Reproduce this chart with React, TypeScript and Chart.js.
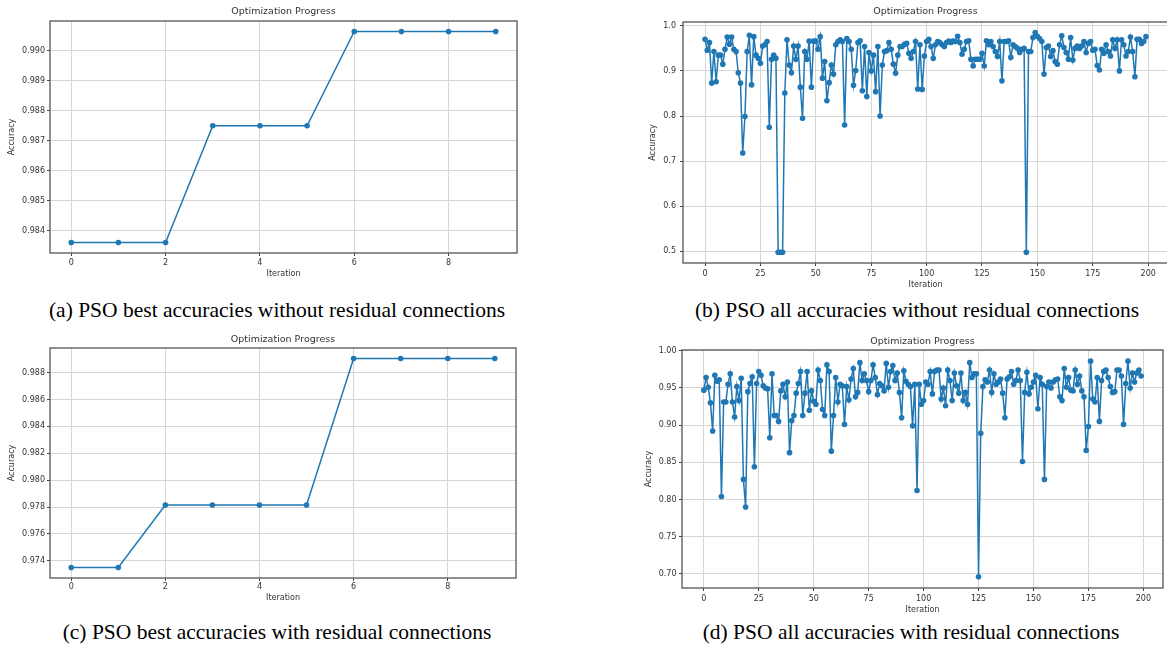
import React, { useEffect, useRef } from "react";
import { Chart, registerables } from "chart.js";

Chart.register(...registerables);

const FONT = "'DejaVu Sans', sans-serif";
const LINE_COLOR = "#1f77b4";
const TEXT_COLOR = "#333333";
const GRID_COLOR = "#d6d6d6";

// (a) PSO best accuracies without residual connections
const bestNoResidual = [0.9836, 0.9836, 0.9836, 0.9875, 0.9875, 0.9875, 0.99065, 0.99065, 0.99065, 0.99065];
// (c) PSO best accuracies with residual connections
const bestResidual = [0.9735, 0.9735, 0.97815, 0.97815, 0.97815, 0.97815, 0.98905, 0.98905, 0.98905, 0.98905];

// (b) PSO all accuracies without residual connections
const allNoResidual = [
  0.970, 0.946, 0.963, 0.873, 0.943, 0.876, 0.935, 0.935, 0.915, 0.948,
  0.975, 0.959, 0.975, 0.948, 0.943, 0.896, 0.873, 0.718, 0.799, 0.943,
  0.979, 0.869, 0.976, 0.935, 0.928, 0.917, 0.955, 0.958, 0.965, 0.775,
  0.926, 0.935, 0.928, 0.498, 0.498, 0.498, 0.851, 0.969, 0.913, 0.896,
  0.955, 0.926, 0.955, 0.864, 0.795, 0.943, 0.926, 0.966, 0.864, 0.966,
  0.966, 0.948, 0.976, 0.884, 0.921, 0.834, 0.874, 0.913, 0.893, 0.958,
  0.965, 0.969, 0.965, 0.780, 0.972, 0.965, 0.948, 0.868, 0.901, 0.963,
  0.967, 0.856, 0.954, 0.843, 0.941, 0.900, 0.935, 0.854, 0.954, 0.800,
  0.913, 0.943, 0.945, 0.963, 0.948, 0.915, 0.895, 0.935, 0.954, 0.954,
  0.959, 0.961, 0.939, 0.928, 0.943, 0.965, 0.860, 0.958, 0.859, 0.933,
  0.965, 0.970, 0.954, 0.928, 0.958, 0.965, 0.963, 0.958, 0.954, 0.963,
  0.966, 0.963, 0.966, 0.965, 0.977, 0.963, 0.937, 0.948, 0.965, 0.967,
  0.926, 0.911, 0.926, 0.926, 0.926, 0.939, 0.911, 0.967, 0.958, 0.965,
  0.954, 0.943, 0.932, 0.965, 0.878, 0.965, 0.965, 0.967, 0.930, 0.958,
  0.954, 0.950, 0.941, 0.948, 0.950, 0.498, 0.943, 0.943, 0.974, 0.985,
  0.977, 0.972, 0.965, 0.893, 0.952, 0.955, 0.932, 0.945, 0.921, 0.915,
  0.958, 0.978, 0.952, 0.941, 0.926, 0.974, 0.924, 0.950, 0.955, 0.950,
  0.955, 0.965, 0.941, 0.961, 0.965, 0.946, 0.948, 0.912, 0.902, 0.948,
  0.939, 0.958, 0.943, 0.933, 0.969, 0.950, 0.969, 0.900, 0.969, 0.958,
  0.933, 0.943, 0.975, 0.943, 0.887, 0.970, 0.970, 0.961, 0.965, 0.976,
];

// (d) PSO all accuracies with residual connections
const allResidual = [
  0.947, 0.964, 0.951, 0.930, 0.892, 0.967, 0.959, 0.961, 0.804, 0.931,
  0.931, 0.955, 0.969, 0.931, 0.911, 0.952, 0.933, 0.963, 0.827, 0.790,
  0.945, 0.956, 0.965, 0.844, 0.956, 0.972, 0.967, 0.953, 0.950, 0.949,
  0.883, 0.969, 0.913, 0.913, 0.905, 0.946, 0.955, 0.938, 0.958, 0.863,
  0.906, 0.913, 0.943, 0.956, 0.972, 0.913, 0.943, 0.972, 0.920, 0.946,
  0.932, 0.928, 0.974, 0.960, 0.921, 0.913, 0.981, 0.972, 0.865, 0.913,
  0.964, 0.931, 0.955, 0.953, 0.901, 0.952, 0.934, 0.962, 0.976, 0.938,
  0.944, 0.984, 0.960, 0.969, 0.960, 0.945, 0.960, 0.981, 0.964, 0.941,
  0.956, 0.953, 0.946, 0.983, 0.951, 0.972, 0.980, 0.960, 0.970, 0.944,
  0.910, 0.973, 0.959, 0.955, 0.952, 0.899, 0.955, 0.812, 0.955, 0.928,
  0.933, 0.958, 0.955, 0.972, 0.942, 0.972, 0.974, 0.974, 0.935, 0.950,
  0.926, 0.974, 0.960, 0.933, 0.970, 0.953, 0.943, 0.970, 0.933, 0.944,
  0.928, 0.984, 0.964, 0.969, 0.969, 0.696, 0.889, 0.952, 0.961, 0.958,
  0.974, 0.944, 0.969, 0.955, 0.958, 0.962, 0.943, 0.910, 0.962, 0.965,
  0.972, 0.955, 0.960, 0.974, 0.960, 0.851, 0.944, 0.971, 0.942, 0.951,
  0.958, 0.967, 0.922, 0.964, 0.955, 0.827, 0.952, 0.958, 0.950, 0.958,
  0.961, 0.962, 0.938, 0.933, 0.976, 0.951, 0.964, 0.947, 0.946, 0.974,
  0.955, 0.966, 0.946, 0.938, 0.866, 0.898, 0.986, 0.935, 0.931, 0.964,
  0.905, 0.960, 0.972, 0.974, 0.964, 0.952, 0.944, 0.945, 0.974, 0.974,
  0.966, 0.901, 0.956, 0.986, 0.950, 0.970, 0.958, 0.970, 0.974, 0.966,
];

const bestXTicks = [0, 2, 4, 6, 8];
const allXTicks = [0, 25, 50, 75, 100, 125, 150, 175, 200];
const aYTicks = [0.984, 0.985, 0.986, 0.987, 0.988, 0.989, 0.99];
const cYTicks = [0.974, 0.976, 0.978, 0.98, 0.982, 0.984, 0.986, 0.988];
const bYTicks = [0.5, 0.6, 0.7, 0.8, 0.9, 1.0];
const dYTicks = [0.7, 0.75, 0.8, 0.85, 0.9, 0.95, 1.0];

const chartTitle = "Optimization Progress";
const xLabel = "Iteration";
const yLabel = "Accuracy";

type Spec = {
  values: number[];
  xTicks: number[];
  yTicks: number[];
  yDec: number;
  xMin: number;
  xMax: number;
  yMin: number;
  yMax: number;
  area: { left: number; top: number; right: number; bottom: number };
  yTitleX: number;
  xTitleY: number;
  titleY: number;
  xTickPad: number;
  yTickPad: number;
};

const specs: Spec[] = [
  {
    values: bestNoResidual, xTicks: bestXTicks, yTicks: aYTicks, yDec: 3,
    xMin: -0.45, xMax: 9.45, yMin: 0.98325, yMax: 0.991,
    area: { left: 50, top: 21, right: 517, bottom: 253 },
    yTitleX: 12, xTitleY: 274, titleY: 12, xTickPad: 1.8, yTickPad: 2,
  },
  {
    values: allNoResidual, xTicks: allXTicks, yTicks: bYTicks, yDec: 1,
    xMin: -9.95, xMax: 208.95, yMin: 0.474, yMax: 1.0085,
    area: { left: 683, top: 22, right: 1168, bottom: 263 },
    yTitleX: 653, xTitleY: 285, titleY: 12, xTickPad: 3.5, yTickPad: 4,
  },
  {
    values: bestResidual, xTicks: bestXTicks, yTicks: cYTicks, yDec: 3,
    xMin: -0.45, xMax: 9.45, yMin: 0.97272, yMax: 0.98983,
    area: { left: 50, top: 348, right: 516, bottom: 578 },
    yTitleX: 12, xTitleY: 598, titleY: 340, xTickPad: 1.2, yTickPad: 2,
  },
  {
    values: allResidual, xTicks: allXTicks, yTicks: dYTicks, yDec: 2,
    xMin: -9.95, xMax: 208.95, yMin: 0.681, yMax: 1.001,
    area: { left: 682, top: 350, right: 1163, bottom: 588 },
    yTitleX: 649, xTitleY: 610, titleY: 342, xTickPad: 3.5, yTickPad: 2.5,
  },
];

const captions = [
  { text: "(a) PSO best accuracies without residual connections", cx: 277, cy: 310 },
  { text: "(b) PSO all accuracies without residual connections", cx: 917, cy: 310 },
  { text: "(c) PSO best accuracies with residual connections", cx: 277, cy: 632 },
  { text: "(d) PSO all accuracies with residual connections", cx: 911, cy: 632 },
];

function Panel({ spec }: { spec: Spec }) {
  const ref = useRef<HTMLCanvasElement>(null);
  const L = Math.round(spec.yTitleX - 4.8);
  const T = spec.area.top - 20;
  const Rt = spec.area.right + 10;
  const B = Math.round(spec.xTitleY + 4.8);
  const W = Rt - L;
  const H = B - T;

  useEffect(() => {
    if (!ref.current) return;
    const tickFont = { family: FONT, size: 8 };
    const decorPlugin = {
      id: "decor",
      afterDraw(chart: any) {
        const { ctx, chartArea } = chart;
        ctx.save();
        ctx.strokeStyle = "#555555";
        ctx.lineWidth = 1.3;
        ctx.strokeRect(chartArea.left, chartArea.top, chartArea.right - chartArea.left, chartArea.bottom - chartArea.top);
        ctx.font = `9.5px ${FONT}`;
        ctx.fillStyle = TEXT_COLOR;
        ctx.textAlign = "center";
        ctx.textBaseline = "middle";
        ctx.fillText(chartTitle, (chartArea.left + chartArea.right) / 2, spec.titleY - T);
        ctx.restore();
      },
    };
    const chart = new Chart(ref.current, {
      type: "line",
      data: {
        datasets: [
          {
            data: spec.values.map((v, i) => ({ x: i, y: v })),
            borderColor: LINE_COLOR,
            backgroundColor: LINE_COLOR,
            borderWidth: 1.5,
            pointRadius: 2.8,
            pointBackgroundColor: LINE_COLOR,
            pointBorderWidth: 0,
            tension: 0,
            fill: false,
          },
        ],
      },
      options: {
        animation: false,
        responsive: false,
        maintainAspectRatio: false,
        layout: { padding: { left: 0, top: spec.area.top - T, right: Rt - spec.area.right, bottom: 0 } },
        plugins: {
          legend: { display: false },
          tooltip: { enabled: false },
          title: { display: false },
        },
        scales: {
          x: {
            type: "linear",
            min: spec.xMin,
            max: spec.xMax,
            afterBuildTicks: (s: any) => {
              s.ticks = spec.xTicks.map((v) => ({ value: v }));
            },
            afterFit: (s: any) => {
              s.height = B - spec.area.bottom;
            },
            ticks: {
              font: tickFont,
              color: TEXT_COLOR,
              padding: spec.xTickPad,
              autoSkip: false,
              maxRotation: 0,
              callback: (v: any) => String(v),
            },
            grid: { color: GRID_COLOR, lineWidth: 1, tickLength: 3, tickColor: "#444444", drawTicks: true },
            border: { display: false },
            title: { display: true, text: xLabel, font: tickFont, color: TEXT_COLOR, padding: 0 },
          },
          y: {
            type: "linear",
            min: spec.yMin,
            max: spec.yMax,
            afterBuildTicks: (s: any) => {
              s.ticks = spec.yTicks.map((v) => ({ value: v }));
            },
            afterFit: (s: any) => {
              s.width = spec.area.left - L;
            },
            ticks: {
              font: tickFont,
              color: TEXT_COLOR,
              padding: spec.yTickPad,
              autoSkip: false,
              callback: (v: any) => Number(v).toFixed(spec.yDec),
            },
            grid: { color: GRID_COLOR, lineWidth: 1, tickLength: 3, tickColor: "#444444", drawTicks: true },
            border: { display: false },
            title: { display: true, text: yLabel, font: tickFont, color: TEXT_COLOR, padding: 0 },
          },
        },
      },
      plugins: [decorPlugin],
    } as any);
    return () => chart.destroy();
  }, []);

  return (
    <canvas
      ref={ref}
      width={W}
      height={H}
      style={{ position: "absolute", left: L, top: T, width: W, height: H }}
    />
  );
}

export default function App() {
  return (
    <div
      style={{
        position: "absolute",
        left: 0,
        top: 0,
        width: 1167,
        height: 647,
        overflow: "hidden",
        background: "#ffffff",
      }}
    >
      {specs.map((s, i) => (
        <Panel key={i} spec={s} />
      ))}
      {captions.map((c, i) => (
        <div
          key={i}
          style={{
            position: "absolute",
            left: c.cx,
            top: c.cy - 13,
            height: 26,
            lineHeight: "26px",
            transform: "translateX(-50%)",
            whiteSpace: "nowrap",
            fontFamily: "'Liberation Serif', 'Times New Roman', serif",
            fontSize: 21.5,
            color: "#000000",
          }}
        >
          {c.text}
        </div>
      ))}
    </div>
  );
}
